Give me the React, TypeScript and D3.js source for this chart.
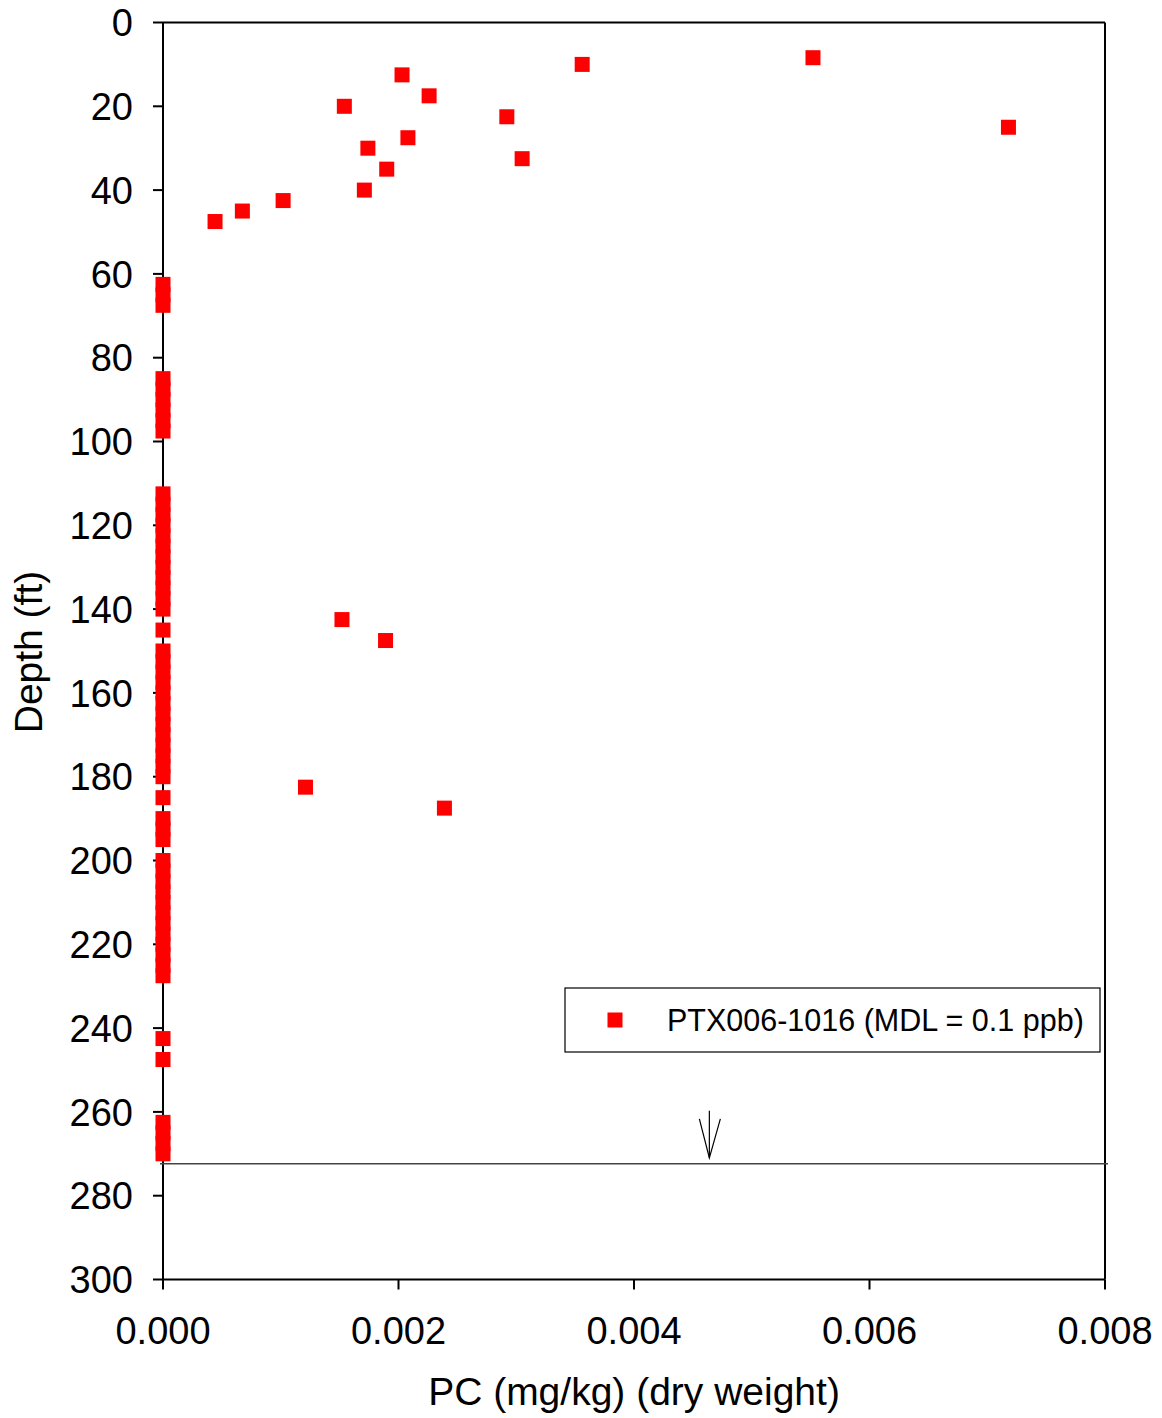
import React from "react";
import * as d3 from "d3";

const detectDepths = [8.4, 10, 12.5, 17.5, 20, 22.5, 25, 27.5, 30, 32.5, 35, 40, 42.5, 45, 47.5, 142.5, 147.5, 182.5, 187.5];
const detectValues = [0.00552, 0.00356, 0.00203, 0.00226, 0.00154, 0.00292, 0.00718, 0.00208, 0.00174, 0.00305, 0.0019, 0.00171, 0.00102, 0.000674, 0.000442, 0.00152, 0.00189, 0.00121, 0.00239];

const nondetectDepths = [
  62.5, 65, 67.5,
  85, 87.5, 90, 92.5, 95, 97.5,
  112.5, 115, 117.5, 120, 122.5, 125, 127.5, 130, 132.5, 135, 137.5, 140,
  145,
  150, 152.5, 155, 157.5, 160, 162.5, 165, 167.5, 170, 172.5, 175, 177.5, 180,
  185,
  190, 192.5, 195,
  200, 202.5, 205, 207.5, 210, 212.5, 215, 217.5, 220, 222.5, 225, 227.5,
  242.5, 247.5,
  262.5, 265, 267.5, 270,
];
const nondetectValue = 0;

const yTicks = [0, 20, 40, 60, 80, 100, 120, 140, 160, 180, 200, 220, 240, 260, 280, 300];
const xTicks = [0, 0.002, 0.004, 0.006, 0.008];

const totalDepth = 272.4;
const arrowValue = 0.00464;

const legendLabel = "PTX006-1016 (MDL = 0.1 ppb)";
const xTitle = "PC (mg/kg) (dry weight)";
const yTitle = "Depth (ft)";

export default function App() {
  const W = 1162, H = 1418;
  const left = 163, right = 1105, top = 22.5, bottom = 1279.5;
  const x = d3.scaleLinear().domain([0, 0.008]).range([left, right]);
  const y = d3.scaleLinear().domain([0, 300]).range([top, bottom]);
  const ms = 15;
  const font = "'Liberation Sans', Arial, sans-serif";
  const fmt = d3.format(".3f");

  const yLine = y(totalDepth);
  const ax = x(arrowValue);

  return (
    <svg width={W} height={H} style={{ position: "absolute", left: 0, top: 0, display: "block" }} fontFamily={font}>
      <rect x={0} y={0} width={W} height={H} fill="white" />
      {/* frame */}
      <line x1={left} y1={top} x2={right} y2={top} stroke="black" strokeWidth={2} />
      <line x1={right} y1={top} x2={right} y2={bottom} stroke="black" strokeWidth={2} />
      <line x1={left} y1={top} x2={left} y2={bottom} stroke="black" strokeWidth={2} />
      <line x1={left} y1={bottom} x2={right} y2={bottom} stroke="black" strokeWidth={2} />
      {/* y ticks */}
      {yTicks.map((t) => (
        <g key={"y" + t}>
          <line x1={left - 10} x2={left} y1={y(t)} y2={y(t)} stroke="black" strokeWidth={2} />
          <text x={133} y={y(t)} dy="0.36em" textAnchor="end" fontSize={38}>{t}</text>
        </g>
      ))}
      {/* x ticks */}
      {xTicks.map((t) => (
        <g key={"x" + t}>
          <line x1={x(t)} x2={x(t)} y1={bottom} y2={bottom + 10} stroke="black" strokeWidth={2} />
          <text x={x(t)} y={1344} textAnchor="middle" fontSize={38}>{fmt(t)}</text>
        </g>
      ))}
      <text x={(left + right) / 2} y={1405} textAnchor="middle" fontSize={39}>{xTitle}</text>
      <text transform={`translate(42,${(top + bottom) / 2 + 1}) rotate(-90)`} textAnchor="middle" fontSize={39}>{yTitle}</text>

      {/* total depth line */}
      <line x1={160} x2={1108} y1={yLine} y2={yLine} stroke="#444" strokeWidth={1.5} />
      {/* arrow */}
      <g stroke="black" strokeWidth={1.2} fill="none">
        <line x1={ax} x2={ax} y1={yLine - 53} y2={yLine - 6} />
        <polyline points={`${ax - 10},${yLine - 45} ${ax},${yLine - 6} ${ax + 11},${yLine - 45}`} />
      </g>

      {/* markers */}
      {nondetectDepths.map((d, i) => (
        <rect key={"n" + i} x={x(nondetectValue) - ms / 2} y={y(d) - ms / 2} width={ms} height={ms} fill="#ff0000" />
      ))}
      {detectDepths.map((d, i) => (
        <rect key={"d" + i} x={x(detectValues[i]) - ms / 2} y={y(d) - ms / 2} width={ms} height={ms} fill="#ff0000" />
      ))}

      {/* legend */}
      <rect x={565} y={988} width={535} height={64} fill="white" stroke="black" strokeWidth={1.2} />
      <rect x={615 - ms / 2} y={1020 - ms / 2} width={ms} height={ms} fill="#ff0000" />
      <text x={667} y={1031} fontSize={30.5}>{legendLabel}</text>
    </svg>
  );
}
